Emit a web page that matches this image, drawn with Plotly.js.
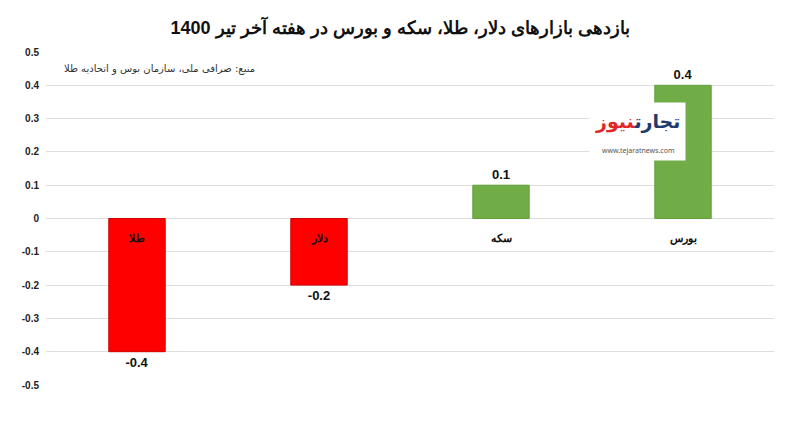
<!DOCTYPE html>
<html>
<head>
<meta charset="utf-8">
<script src="https://cdn.plot.ly/plotly-3.0.1.min.js"></script>
<style>html,body{margin:0;padding:0;background:#fff;}#chart{width:800px;height:422px;}</style>
</head>
<body>
<div id="chart"></div>
<script>
var categories = ["طلا", "دلار", "سکه", "بورس"];
var values = [-0.4, -0.2, 0.1, 0.4];
var barColors = ["#ff0000", "#ff0000", "#70ad47", "#70ad47"];
var lineColors = ["#d00000", "#d00000", "#62a03c", "#62a03c"];
var tickVals = [0.5, 0.4, 0.3, 0.2, 0.1, 0, -0.1, -0.2, -0.3, -0.4, -0.5];
var tickText = ["0.5", "0.4", "0.3", "0.2", "0.1", "0", "-0.1", "-0.2", "-0.3", "-0.4", "-0.5"];
var titleText = "بازدهی بازارهای دلار، طلا، سکه و بورس در هفته آخر تیر 1400";
var sourceText = "منبع: صرافی ملی، سازمان بوس و اتحادیه طلا";

var trace = {
  type: "bar",
  x: categories,
  y: values,
  width: 0.31,
  marker: {color: barColors, line: {color: lineColors, width: 1}},
  text: values.map(function(v){ return "<b>" + String(v) + "</b>"; }),
  textposition: "outside",
  cliponaxis: false,
  textfont: {family: "Liberation Sans, Arial, sans-serif", size: 13, color: "#111"},
  hoverinfo: "skip"
};

var annotations = categories.map(function(c){
  return {x: c, y: -0.06, xref: "x", yref: "y", text: "<b>" + c + "</b>", showarrow: false,
    font: {family: "Liberation Sans, Arial, sans-serif", size: 11, color: "#111"}};
});
annotations.push({xref: "paper", yref: "paper", x: 0.022, y: 0.948, xanchor: "left", yanchor: "middle",
  text: sourceText, showarrow: false,
  font: {family: "DejaVu Sans, sans-serif", size: 10, color: "#333"}});
annotations.push({xref: "paper", yref: "paper", x: 0.812, y: 0.76, xanchor: "center", yanchor: "middle",
  text: "<b><span style='color:#1f3a6e'>تجارت</span><span style='color:#e3262b'>نیوز</span></b><br><span style='font-size:7px;color:#555'>www.tejaratnews.com</span>",
  showarrow: false, bgcolor: "#ffffff", borderpad: 5,
  font: {family: "Noto Sans, DejaVu Sans, sans-serif", size: 19, color: "#1f3a6e"}});

var layout = {
  width: 800, height: 422,
  margin: {l: 46, r: 26, t: 52, b: 37},
  paper_bgcolor: "#ffffff", plot_bgcolor: "#ffffff",
  title: {text: "<b>" + titleText + "</b>", x: 0.5, xanchor: "center", y: 0.935, yanchor: "middle",
    font: {family: "Liberation Sans, Arial, sans-serif", size: 18, color: "#111"}},
  showlegend: false,
  bargap: 0.69,
  xaxis: {showticklabels: false, showgrid: false, zeroline: false, showline: false, ticks: ""},
  yaxis: {range: [-0.5, 0.5], tickvals: tickVals, ticktext: tickText,
    showgrid: true, gridcolor: "#dedede", gridwidth: 1, zeroline: true, zerolinecolor: "#dedede", zerolinewidth: 1,
    showline: false, ticks: "", ticklabelstandoff: 6,
    tickfont: {family: "Liberation Sans, Arial, sans-serif", size: 10, color: "#222", weight: "bold"}},
  annotations: annotations
};

Plotly.newPlot("chart", [trace], layout, {displayModeBar: false, staticPlot: true});
</script>
</body>
</html>
